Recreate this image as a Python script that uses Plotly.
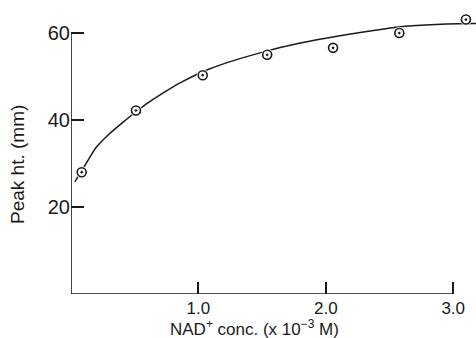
import plotly.graph_objects as go

# Measured data points (NAD+ conc. x10^-3 M, peak height mm)
conc = [0.084, 0.51, 1.034, 1.54, 2.057, 2.577, 3.10]
peak = [28.0, 42.2, 50.3, 55.0, 56.6, 60.0, 63.1]

# Hand-drawn fitted curve
curve_x = [0.03, 0.118, 0.20, 0.30, 0.40, 0.51, 0.60, 0.70, 0.86, 1.09,
           1.49, 1.80, 2.43, 2.65, 2.95, 3.18]
curve_y = [25.8, 30.0, 33.8, 36.8, 39.3, 41.9, 43.9, 45.8, 48.6, 51.8,
           55.5, 57.7, 60.8, 61.6, 62.1, 62.2]

x_ticks = [1.0, 2.0, 3.0]
x_ticktext = ["1.0", "2.0", "3.0"]
y_ticks = [20, 40, 60]
y_ticktext = ["20", "40", "60"]

FONT = "Liberation Sans"
INK = "#1a1a1a"

fig = go.Figure()
fig.add_trace(go.Scatter(x=curve_x, y=curve_y, mode="lines",
                         line=dict(color=INK, width=1.5, shape="spline", smoothing=0.8),
                         hoverinfo="skip", showlegend=False))
# white masks under the markers (line gaps)
fig.add_trace(go.Scatter(x=conc, y=peak, mode="markers",
                         marker=dict(symbol="circle", size=12, color="white", line=dict(width=0)),
                         hoverinfo="skip", showlegend=False, cliponaxis=False))
fig.add_trace(go.Scatter(x=conc, y=peak, mode="markers",
                         marker=dict(symbol="circle-open-dot", size=9, color=INK, line=dict(width=1.6, color=INK)),
                         showlegend=False, cliponaxis=False))

# axis lines spanning 0 .. last tick
fig.add_shape(type="line", xref="x", yref="y", x0=0, x1=max(x_ticks), y0=0, y1=0,
              line=dict(color=INK, width=1.6))
fig.add_shape(type="line", xref="x", yref="y", x0=0, x1=0, y0=0, y1=max(y_ticks),
              line=dict(color=INK, width=1.6))

fig.update_xaxes(range=[0, 3.179], tickvals=x_ticks, ticktext=x_ticktext, automargin=False,
                 ticks="inside", ticklen=12, tickwidth=1.5, tickcolor=INK,
                 showgrid=False, zeroline=False, showline=False,
                 tickfont=dict(family=FONT, size=17, color=INK), ticklabelstandoff=2)
fig.update_yaxes(range=[0, 67.6], tickvals=y_ticks, ticktext=y_ticktext, automargin=False,
                 ticks="inside", ticklen=13, tickwidth=1.5, tickcolor=INK,
                 showgrid=False, zeroline=False, showline=False,
                 tickfont=dict(family=FONT, size=20, color=INK), ticklabelstandoff=0)

fig.add_annotation(text="NAD<sup>+</sup> conc. (x 10<sup>−3</sup> M)", xref="paper", yref="paper",
                   x=(254 - 71) / 405, y=-(328 - 294) / 294, xanchor="center", yanchor="middle",
                   showarrow=False, font=dict(family=FONT, size=17, color=INK))
fig.add_annotation(text="Peak ht. (mm)", xref="paper", yref="paper", textangle=-90,
                   x=(17 - 71) / 405, y=(294 - 165) / 294, xanchor="center", yanchor="middle",
                   showarrow=False, font=dict(family=FONT, size=19, color=INK))

fig.update_layout(width=476, height=338, margin=dict(l=71, r=0, t=0, b=44, autoexpand=False),
                  plot_bgcolor="white", paper_bgcolor="white", showlegend=False)

fig.write_html("out.html", config={"displayModeBar": False},
               post_script="document.body.style.margin='0';document.body.style.padding='0';"
                           "document.documentElement.style.overflow='hidden';")
